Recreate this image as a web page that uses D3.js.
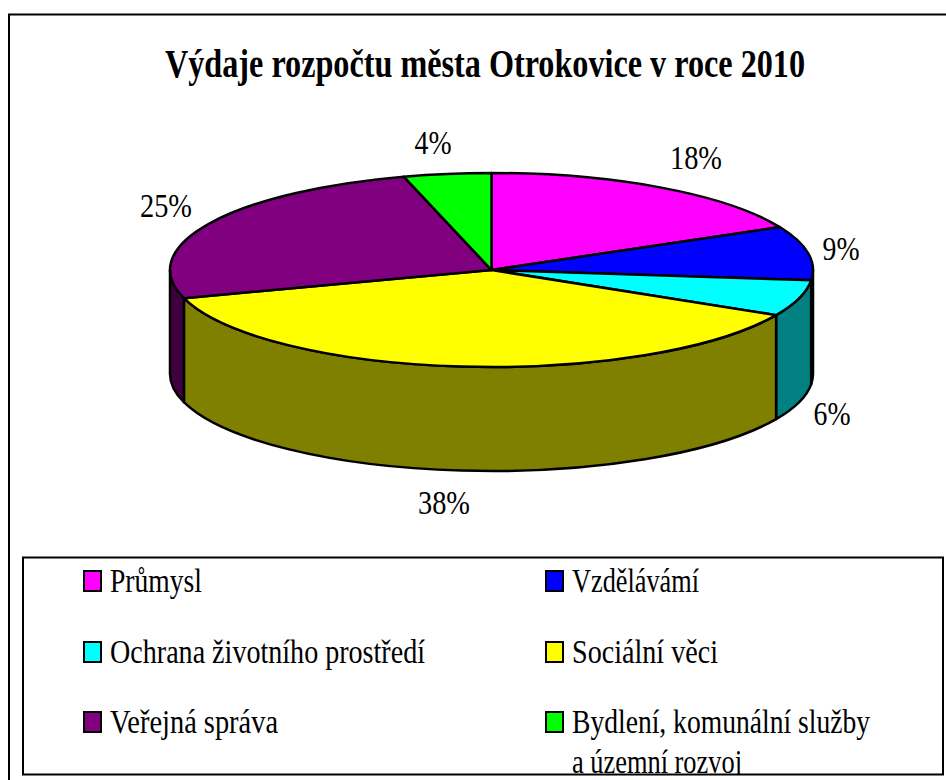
<!DOCTYPE html>
<html><head><meta charset="utf-8">
<style>html,body{margin:0;padding:0;background:#fff}svg{display:block}text{font-family:"Liberation Serif",serif;fill:#000}</style>
<script src="https://cdn.jsdelivr.net/npm/d3@7/dist/d3.min.js"></script>
</head><body><svg id="c" width="946" height="780"></svg>
<script>
const title = "Výdaje rozpočtu města Otrokovice v roce 2010";
const categories = ["Průmysl","Vzdělávámí","Ochrana životního prostředí","Sociální věci","Veřejná správa","Bydlení, komunální služby"];
const legendExtra = "a územní rozvoj";
const percentLabels = ["18%","9%","6%","38%","25%","4%"];
const sliceShares = [17.7,9,6,37.6,25.3,4.4];
const colors = ["#ff00ff","#0000ff","#00ffff","#ffff00","#800080","#00ff00"];
const sideColors = ["#800080","#000080","#008080","#808000","#400040","#008000"];

const svg = d3.select("#c");
const cx=491.5, cy=270, rx=321.5, ry=97, depth=104, sw=2.5;
svg.append("rect").attr("x",9).attr("y",14.5).attr("width",960).attr("height",800).attr("fill","#fff").attr("stroke","#000").attr("stroke-width",2);

function fit(sel,len){ sel.attr("textLength",len).attr("lengthAdjust","spacingAndGlyphs"); return sel; }
fit(svg.append("text").attr("x",165).attr("y",77).attr("font-size",40).attr("font-weight","bold").text(title),640);

const pie = d3.pie().sort(null).value(d=>d);
const arcs = pie(sliceShares);
const pt = (a,dy=0)=>[cx+rx*Math.sin(a), cy-ry*Math.cos(a)+dy];
const arcGen = d3.arc().innerRadius(0).outerRadius(rx);

const lo=Math.PI/2, hi=3*Math.PI/2;
const walls = svg.append("g").attr("stroke","#000").attr("stroke-width",sw).attr("stroke-linejoin","round");
arcs.forEach((d,i)=>{
  const a0=Math.max(d.startAngle,lo), a1=Math.min(d.endAngle,hi);
  if(a1<=a0) return;
  const [x0,y0]=pt(a0),[x1,y1]=pt(a1),[x2,y2]=pt(a1,depth),[x3,y3]=pt(a0,depth);
  walls.append("path").attr("fill",sideColors[i])
    .attr("d",`M${x0},${y0}A${rx},${ry} 0 0 1 ${x1},${y1}L${x2},${y2}A${rx},${ry} 0 0 0 ${x3},${y3}Z`);
});
const lid = svg.append("g").attr("transform",`translate(${cx},${cy}) scale(1,${ry/rx})`);
lid.selectAll("path").data(arcs).join("path")
  .attr("d",arcGen).attr("fill",(d,i)=>colors[i])
  .attr("stroke","#000").attr("stroke-width",sw).attr("vector-effect","non-scaling-stroke").attr("stroke-linejoin","round");

const labelPos = [[696,169],[841,260],[832,425],[444,514],[166,217],[433,154]];
svg.append("g").selectAll("text").data(percentLabels).join("text")
  .attr("x",(d,i)=>labelPos[i][0]).attr("y",(d,i)=>labelPos[i][1])
  .attr("text-anchor","middle").attr("font-size",33)
  .each(function(d){ fit(d3.select(this).text(d), d.length>2?52:37); });

svg.append("clipPath").attr("id","legClip").append("rect").attr("x",23).attr("y",557).attr("width",920).attr("height",217);
svg.append("rect").attr("x",23).attr("y",557.5).attr("width",920).attr("height",217).attr("fill","#fff").attr("stroke","#000").attr("stroke-width",2);
const legX=[84,546], legY=[591,662,732];
const legLen=[92,127,315,146,168,298];
const lg = svg.append("g").selectAll("g").data(categories).join("g")
  .attr("transform",(d,i)=>`translate(${legX[i%2]},${legY[Math.floor(i/2)]})`);
lg.append("rect").attr("x",0).attr("y",-20).attr("width",17).attr("height",20).attr("fill",(d,i)=>colors[i]).attr("stroke","#000").attr("stroke-width",2);
lg.append("text").attr("x",26).attr("y",1).attr("font-size",33)
  .text(d=>d).each(function(d,i){ fit(d3.select(this),legLen[i]); });
fit(svg.append("text").attr("x",572).attr("y",773).attr("font-size",33).attr("clip-path","url(#legClip)").text(legendExtra),170);
</script></body></html>
